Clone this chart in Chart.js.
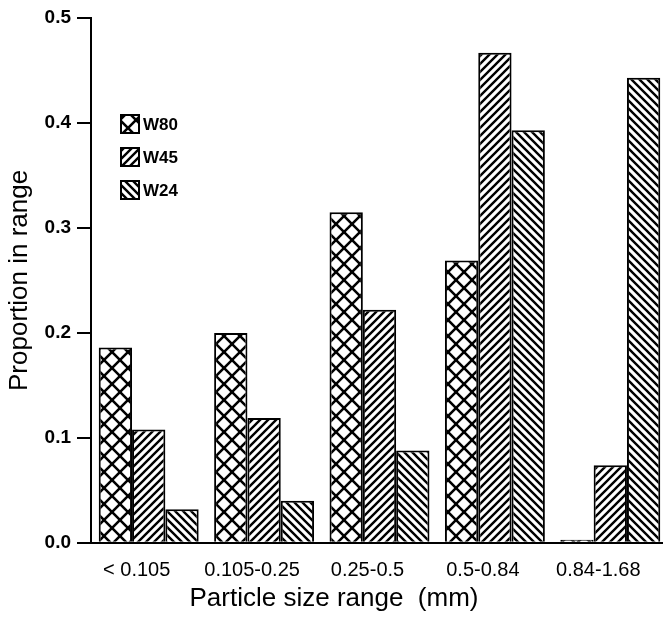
<!DOCTYPE html>
<html>
<head>
<meta charset="utf-8">
<script src="https://cdn.jsdelivr.net/npm/chart.js@4.4.1/dist/chart.umd.min.js"></script>
<style>
  html, body { margin: 0; padding: 0; background: #fff; overflow: hidden; }
  #wrap { width: 670px; height: 618px; }
</style>
</head>
<body>
<div id="wrap"><canvas id="chart" width="670" height="618"></canvas></div>
<script>
// datos
const categories = ['< 0.105', '0.105-0.25', '0.25-0.5', '0.5-0.84', '0.84-1.68'];
const seriesNames = ['W80', 'W45', 'W24'];
const w80 = [0.186, 0.200, 0.315, 0.269, 0.003];
const w45 = [0.108, 0.119, 0.222, 0.467, 0.074];
const w24 = [0.032, 0.040, 0.088, 0.393, 0.443];
const yTickLabels = ['0.0', '0.1', '0.2', '0.3', '0.4', '0.5'];

const FONT = "'Liberation Sans', Arial, Helvetica, sans-serif";

// rellenos rayados
function makePattern(kind) {
  const s = kind === 'cross' ? 16 : 8;
  const c = document.createElement('canvas');
  c.width = s; c.height = s;
  const g = c.getContext('2d');
  g.fillStyle = '#fff';
  g.fillRect(0, 0, s, s);
  g.strokeStyle = '#000';
  g.lineWidth = kind === 'cross' ? 2.6 : 2.4;
  g.lineCap = 'square';
  const slash = () => {
    g.beginPath();
    g.moveTo(-2, s + 2); g.lineTo(s + 2, -2);
    g.moveTo(-2, 2); g.lineTo(2, -2);
    g.moveTo(s - 2, s + 2); g.lineTo(s + 2, s - 2);
    g.stroke();
  };
  const back = () => {
    g.beginPath();
    g.moveTo(-2, -2); g.lineTo(s + 2, s + 2);
    g.moveTo(s - 2, -2); g.lineTo(s + 2, 2);
    g.moveTo(-2, s - 2); g.lineTo(2, s + 2);
    g.stroke();
  };
  if (kind === 'cross') { slash(); back(); }
  else if (kind === 'slash') slash();
  else back();
  return g.createPattern(c, 'repeat');
}

const fills = [makePattern('cross'), makePattern('slash'), makePattern('back')];
const values = [w80, w45, w24];

const datasets = seriesNames.map((name, i) => ({
  label: name,
  data: values[i],
  backgroundColor: fills[i],
  borderColor: '#000',
  borderWidth: 2,
  barPercentage: 1,
  categoryPercentage: 0.866
}));

// leyenda dentro del área del gráfico
const innerLegend = {
  id: 'innerLegend',
  afterDraw(chart) {
    const ctx = chart.ctx;
    ctx.save();
    ctx.font = 'bold 17px ' + FONT;
    ctx.textBaseline = 'middle';
    chart.data.datasets.forEach((ds, i) => {
      const x = 121, y = 115 + i * 33;
      ctx.fillStyle = ds.backgroundColor;
      ctx.fillRect(x, y, 18, 18);
      ctx.strokeStyle = '#000';
      ctx.lineWidth = 2;
      ctx.strokeRect(x, y, 18, 18);
      ctx.fillStyle = '#000';
      ctx.fillText(ds.label, x + 22, y + 10);
    });
    ctx.restore();
  }
};

const ctx = document.getElementById('chart').getContext('2d');
new Chart(ctx, {
  type: 'bar',
  data: { labels: categories, datasets },
  options: {
    responsive: false,
    animation: false,
    layout: { padding: { top: 18, right: 2, left: 0, bottom: 0 } },
    scales: {
      x: {
        afterFit(scale) { scale.height = 40; },
        grid: { display: true, drawOnChartArea: false, drawTicks: false },
        border: { display: true, color: '#000', width: 2 },
        ticks: { color: '#000', padding: 16, maxRotation: 0, autoSkip: false,
                 labelOffset: -12, font: { family: FONT, size: 20 } }
      },
      y: {
        min: 0, max: 0.5,
        afterFit(scale) { scale.width = 91; },
        grid: { drawOnChartArea: false, drawTicks: true, tickLength: 14, color: '#000', lineWidth: 2 },
        border: { display: true, color: '#000', width: 2 },
        ticks: {
          stepSize: 0.1, color: '#000', padding: 6,
          font: { family: FONT, size: 19, weight: 'bold' },
          callback: (v, i) => yTickLabels[i]
        },
        title: {
          display: true, text: 'Proportion in range', color: '#000',
          font: { family: FONT, size: 26 }, padding: { top: 4, bottom: 0 }
        }
      }
    },
    plugins: {
      legend: { display: false },
      tooltip: { enabled: false },
      title: {
        display: true, position: 'bottom', text: 'Particle size range  (mm)',
        color: '#000', font: { family: FONT, size: 26, weight: 'normal' },
        padding: { top: 0, bottom: 4 }
      }
    }
  },
  plugins: [innerLegend]
});
</script>
</body>
</html>
